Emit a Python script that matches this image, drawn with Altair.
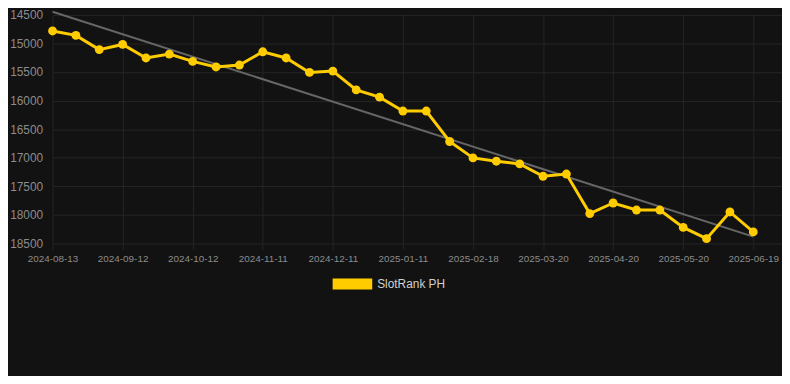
import json
import altair as alt
import pandas as pd

# Tick labels shown on the x axis (every third observation)
x_labels = ["2024-08-13", "2024-09-12", "2024-10-12", "2024-11-11", "2024-12-11",
            "2025-01-11", "2025-02-18", "2025-03-20", "2025-04-20", "2025-05-20", "2025-06-19"]

rank_values = [14782, 14860, 15108, 15018, 15255, 15187, 15315, 15412, 15378, 15146,
               15255, 15508, 15484, 15812, 15940, 16183, 16183, 16716, 17003, 17061,
               17108, 17324, 17285, 17977, 17792, 17915, 17915, 18219, 18416, 17949, 18298]

y_ticks = [14500, 15000, 15500, 16000, 16500, 17000, 17500, 18000, 18500]
series_name = "SlotRank PH"

YELLOW = "#FFCC00"
GRID = "#252525"
FONT = "Liberation Sans"

df = pd.DataFrame({
    "idx": list(range(len(rank_values))),
    "rank": rank_values,
    "series": [series_name] * len(rank_values),
})

label_expr = json.dumps(x_labels) + "[round(datum.value / 3)]"

x_enc = alt.X(
    "idx:Q",
    scale=alt.Scale(domain=[0, 31.23], nice=False, zero=False),
    axis=alt.Axis(
        title=None, values=list(range(0, 31, 3)), tickCount=len(x_labels),
        labelExpr=label_expr,
        grid=True, gridColor=GRID, domain=False, ticks=True, tickColor=GRID,
        tickSize=6, labelPadding=4, labelFontSize=10, labelColor="#8c8c8c",
        labelFont=FONT, labelFlush=False, labelOverlap=False,
    ),
)
y_enc = alt.Y(
    "rank:Q",
    scale=alt.Scale(domain=[14500, 18500], reverse=True, nice=False, zero=False),
    axis=alt.Axis(
        title=None, values=y_ticks, tickCount=len(y_ticks), grid=True,
        gridColor=GRID, domain=False,
        ticks=False, labelPadding=10, labelFontSize=12, labelColor="#8c8c8c",
        labelFont=FONT, format="d", labelOverlap=False, labelFlush=False,
    ),
)
color_enc = alt.Color(
    "series:N",
    scale=alt.Scale(domain=[series_name], range=[YELLOW]),
    legend=alt.Legend(
        title=None, orient="none", legendX=283, legendY=252,
        symbolType="M-1,-0.275L1,-0.275L1,0.275L-1,0.275Z", symbolSize=1600,
        symbolFillColor=YELLOW, symbolStrokeColor=YELLOW, symbolStrokeWidth=0,
        symbolOpacity=1, labelColor="#d0d0d0", labelFontSize=12, labelFont=FONT,
        labelOffset=5, padding=0,
    ),
)

base = alt.Chart(df)

trend = base.transform_regression("idx", "rank", extent=[0, 30]).mark_line(
    color="#666666", strokeWidth=2
).encode(x="idx:Q", y="rank:Q")

line = base.mark_line(strokeWidth=3).encode(x=x_enc, y=y_enc, color=color_enc)
points = base.mark_circle(size=80, opacity=1).encode(x="idx:Q", y="rank:Q", color=color_enc)

chart = alt.layer(trend, line, points).properties(
    width=737, height=231,
    autosize=alt.AutoSizeParams(type="none"),
    padding={"left": 45, "top": 5, "right": 0, "bottom": 132},
    background="#121212",
).configure_view(stroke=None)

chart.save("out.html", embed_options={"renderer": "svg", "actions": False})
